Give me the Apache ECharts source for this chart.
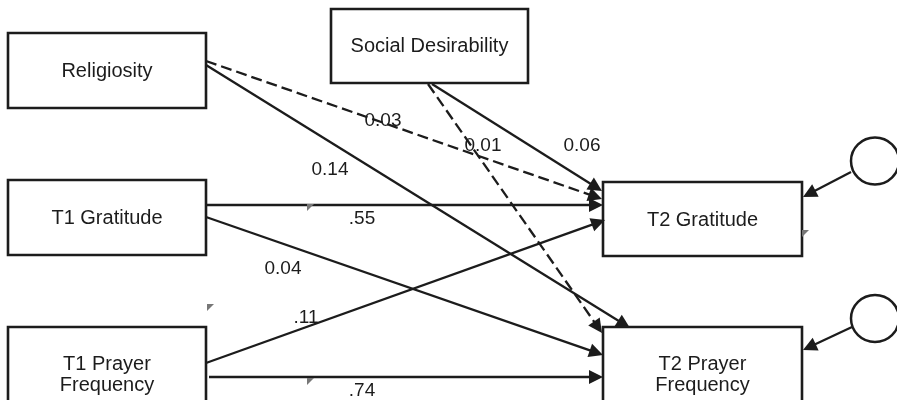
<!DOCTYPE html>
<html><head><meta charset="utf-8">
<script src="https://cdn.jsdelivr.net/npm/echarts@6/dist/echarts.min.js"></script>
<style>html,body{margin:0;padding:0;background:#fff}#c{width:897px;height:400px}</style>
</head><body><div id="c"></div>
<script>
// ---- data ----
const nodeNames = ['Religiosity', 'Social Desirability', 'T1 Gratitude', 'T1 Prayer\nFrequency', 'T2 Gratitude', 'T2 Prayer\nFrequency'];
const pathFrom = [0, 0, 1, 1, 2, 2, 3, 3];
const pathTo   = [4, 5, 4, 5, 4, 5, 4, 5];
const pathCoef = ['0.03', '0.14', '0.06', '0.01', '.55', '0.04', '.11', '.74'];
const pathSignificant = [false, true, true, false, true, true, true, true];
const errorTargets = [4, 5];

// ---- layout (diagram geometry, pixel space) ----
const boxRects = [[8, 33, 206, 108], [331, 9, 528, 83], [8, 180, 206, 255], [8, 327, 206, 420], [603, 182, 802, 256], [603, 327, 802, 420]];
const boxTextY = [71, 46, 218, 375, 220, 375];
const pathStart = [[206, 61], [206, 65], [432, 84], [428, 84], [206, 205], [206, 217], [206, 363], [209, 377]];
const pathEnd   = [[602, 199], [630, 328], [602, 191], [602, 333], [603, 205], [603, 355], [605, 220], [603, 377]];
const labelPos  = [[383, 121], [330, 170], [582, 146], [483, 146], [362, 219], [283, 269], [306, 318], [362, 391]];
const errorCircle = [[875, 161], [875, 318.5]];
const errorStart = [[851, 172], [852, 327]];
const errorEnd = [[803, 197], [803, 350]];
const tickMarks = [[310, 207], [210, 307], [310, 381], [805, 233]];

const INK = '#1c1c1c';
const FONT = 'Arial, "Liberation Sans", sans-serif';

function shorten(p0, p1, d) {
  const dx = p1[0] - p0[0], dy = p1[1] - p0[1];
  const L = Math.sqrt(dx * dx + dy * dy);
  return [p1[0] - dx / L * d, p1[1] - dy / L * d];
}
const ARROW = 14;

const pathLines = pathFrom.map((f, i) => ({
  name: nodeNames[f] + ' -> ' + nodeNames[pathTo[i]],
  coords: [pathStart[i], shorten(pathStart[i], pathEnd[i], ARROW / 2)],
  lineStyle: { type: pathSignificant[i] ? 'solid' : [11, 5] }
}));
const errorLines = errorTargets.map((t, i) => ({
  name: 'e -> ' + nodeNames[t],
  coords: [errorStart[i], shorten(errorStart[i], errorEnd[i], ARROW / 2)],
  lineStyle: { type: 'solid' }
}));

const chart = echarts.init(document.getElementById('c'), null, { renderer: 'canvas' });
chart.setOption({
  animation: false,
  backgroundColor: '#fff',
  grid: { left: 0, right: 0, top: 0, bottom: 0 },
  xAxis: { type: 'value', min: 0, max: 897, show: false },
  yAxis: { type: 'value', min: 0, max: 400, inverse: true, show: false },
  series: [
    {
      type: 'lines', coordinateSystem: 'cartesian2d', z: 3,
      symbol: ['none', 'triangle'], symbolSize: ARROW,
      lineStyle: { color: INK, width: 2.3, opacity: 1 },
      itemStyle: { color: INK },
      data: pathLines.concat(errorLines)
    },
    {
      type: 'custom', coordinateSystem: 'cartesian2d', z: 2,
      data: nodeNames.map((n, i) => [i]),
      renderItem: function (params, api) {
        const i = api.value(0);
        const r = boxRects[i];
        const p0 = api.coord([r[0], r[1]]), p1 = api.coord([r[2], r[3]]);
        const c = api.coord([(r[0] + r[2]) / 2, boxTextY[i]]);
        return {
          type: 'group', children: [
            { type: 'rect', shape: { x: p0[0], y: p0[1], width: p1[0] - p0[0], height: p1[1] - p0[1] },
              style: { fill: '#fff', stroke: INK, lineWidth: 2.6 } },
            { type: 'text', x: c[0], y: c[1],
              style: { text: nodeNames[i], font: '20px ' + FONT, fill: INK, align: 'center', verticalAlign: 'middle', lineHeight: 21 } }
          ]
        };
      }
    },
    {
      type: 'custom', coordinateSystem: 'cartesian2d', z: 4,
      data: pathCoef.map((v, i) => [i]),
      renderItem: function (params, api) {
        const i = api.value(0);
        const c = api.coord(labelPos[i]);
        return { type: 'text', x: c[0], y: c[1],
          style: { text: pathCoef[i], font: '19px ' + FONT, fill: INK, align: 'center', verticalAlign: 'middle' } };
      }
    },
    {
      type: 'custom', coordinateSystem: 'cartesian2d', z: 2,
      data: errorTargets.map((t, i) => [i]),
      renderItem: function (params, api) {
        const i = api.value(0);
        const c = api.coord(errorCircle[i]);
        return { type: 'ellipse', shape: { cx: c[0], cy: c[1], rx: 24, ry: 23.5 },
          style: { fill: '#fff', stroke: INK, lineWidth: 2.5 } };
      }
    },
    {
      type: 'custom', coordinateSystem: 'cartesian2d', z: 5,
      data: tickMarks.map((t, i) => [i]),
      renderItem: function (params, api) {
        const i = api.value(0);
        const c = api.coord(tickMarks[i]);
        return { type: 'polygon', shape: { points: [[c[0] - 3, c[1] - 3], [c[0] + 4, c[1] - 3], [c[0] - 3, c[1] + 4]] },
          style: { fill: '#777' } };
      }
    }
  ]
});
</script>
</body></html>
